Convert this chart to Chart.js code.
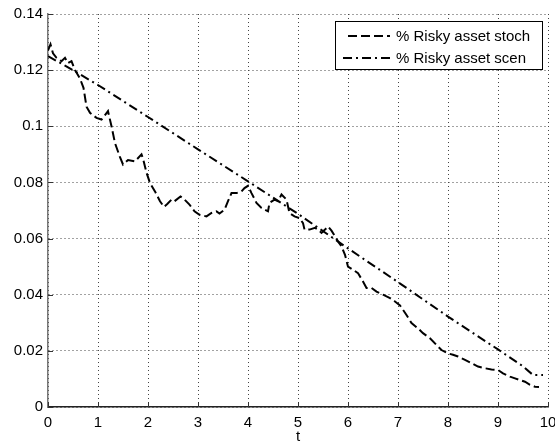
<!DOCTYPE html>
<html>
<head>
<meta charset="utf-8">
<script src="https://cdn.jsdelivr.net/npm/chart.js@4.4.1/dist/chart.umd.min.js"></script>
<style>
  html, body { margin: 0; padding: 0; background: #fff; }
  canvas { display: block; }
</style>
</head>
<body>
<canvas id="riskChart" width="555" height="446"></canvas>
<script>
// % risky asset over time, stochastic path vs scenario path
const stochT = [0, 0.05, 0.1, 0.17, 0.27, 0.34, 0.4, 0.47, 0.54, 0.64, 0.71, 0.77, 0.84, 0.97,
  1.07, 1.14, 1.2, 1.27, 1.34, 1.44, 1.5, 1.6, 1.74, 1.87, 1.9, 1.97,
  2.04, 2.14, 2.24, 2.32, 2.39, 2.47, 2.53, 2.65, 2.73, 2.83, 2.93,
  3.03, 3.17, 3.27, 3.37, 3.43, 3.53, 3.6, 3.67, 3.77, 3.87, 3.93,
  4.0, 4.07, 4.17, 4.27, 4.4, 4.43, 4.53, 4.6, 4.67, 4.77, 4.83, 4.93,
  5.03, 5.1, 5.13, 5.23, 5.34, 5.4, 5.47, 5.54, 5.6, 5.67, 5.74, 5.8, 5.87, 5.94,
  6.0, 6.1, 6.2, 6.3, 6.37, 6.47, 6.57, 6.7, 6.84, 6.94,
  7.04, 7.17, 7.27, 7.4, 7.5, 7.64, 7.77, 7.87,
  8.0, 8.1, 8.2, 8.34, 8.47, 8.6, 8.74, 8.87,
  9.0, 9.1, 9.24, 9.34, 9.44, 9.54, 9.64, 9.74, 9.82];
const stochV = [0.127, 0.1292, 0.126, 0.1244, 0.1232, 0.1244, 0.1225, 0.1232, 0.12, 0.117, 0.1137, 0.107, 0.1048, 0.103,
  0.1024, 0.104, 0.1054, 0.1, 0.094, 0.089, 0.0864, 0.088, 0.0875, 0.09, 0.0885, 0.0835,
  0.0798, 0.0768, 0.0733, 0.0713, 0.0724, 0.0739, 0.0733, 0.075, 0.0739, 0.0721, 0.0697,
  0.0685, 0.0679, 0.0691, 0.0697, 0.0689, 0.0703, 0.0733, 0.0762, 0.0762, 0.0768, 0.078,
  0.0788, 0.0762, 0.0727, 0.0709, 0.0697, 0.0727, 0.0739, 0.0733, 0.0757, 0.0739, 0.0691, 0.0679,
  0.0673, 0.0655, 0.0632, 0.0632, 0.0638, 0.0632, 0.062, 0.0632, 0.0643, 0.0628, 0.0608, 0.059, 0.0572, 0.0542,
  0.05, 0.0489, 0.0477, 0.0447, 0.0424, 0.0424, 0.0411, 0.04, 0.0388, 0.0376,
  0.0362, 0.0328, 0.0299, 0.028, 0.0263, 0.0245, 0.0221, 0.0203,
  0.0191, 0.0186, 0.018, 0.0168, 0.0156, 0.0144, 0.0138, 0.0134,
  0.0132, 0.012, 0.0108, 0.0102, 0.0096, 0.009, 0.0079, 0.0072, 0.0071];

const scenT = [0, 0.5, 1, 2, 3, 4, 5, 6, 7, 8, 9, 9.5, 9.7, 9.9];
const scenV = [0.125, 0.12, 0.1147, 0.1033, 0.0918, 0.0804, 0.0688, 0.0565, 0.0445, 0.0322, 0.0205, 0.0145, 0.0114, 0.0114];

const seriesLabels = ["% Risky asset stoch", "% Risky asset scen"];
const yTickLabels = ["0", "0.02", "0.04", "0.06", "0.08", "0.1", "0.12", "0.14"];
const xTickLabels = ["0", "1", "2", "3", "4", "5", "6", "7", "8", "9", "10"];

const font = "'Liberation Sans', Arial, sans-serif";
const stochDash = [9, 4];
const scenDash = [9, 4, 2, 4];

const toPoints = (ts, vs) => ts.map((t, i) => ({ x: t, y: vs[i] }));

// MATLAB style: small ticks pointing into the plot, plus a boxed legend
const matlabExtras = {
  id: "matlabExtras",
  afterDraw(chart) {
    const { ctx, chartArea, scales } = chart;
    ctx.save();
    ctx.strokeStyle = "#333";
    ctx.lineWidth = 1;
    scales.x.ticks.forEach((tick) => {
      const px = Math.round(scales.x.getPixelForValue(tick.value)) + 0.5;
      ctx.beginPath();
      ctx.moveTo(px, chartArea.bottom);
      ctx.lineTo(px, chartArea.bottom - 5);
      ctx.stroke();
    });
    scales.y.ticks.forEach((tick) => {
      const py = Math.round(scales.y.getPixelForValue(tick.value)) + 0.5;
      ctx.beginPath();
      ctx.moveTo(chartArea.left, py);
      ctx.lineTo(chartArea.left + 5, py);
      ctx.stroke();
    });

    // legend box
    const bx = 335.5, by = 21.5, bw = 207, bh = 48;
    ctx.fillStyle = "#fff";
    ctx.fillRect(bx, by, bw, bh);
    ctx.strokeStyle = "#000";
    ctx.strokeRect(bx, by, bw, bh);

    const rows = [
      { y: 36, x0: 348, x1: 390 },
      { y: 58, x0: 343, x1: 390 }
    ];
    chart.data.datasets.forEach((ds, i) => {
      const r = rows[i];
      ctx.setLineDash(ds.borderDash);
      ctx.lineWidth = ds.borderWidth;
      ctx.strokeStyle = ds.borderColor;
      ctx.beginPath();
      ctx.moveTo(r.x0, r.y);
      ctx.lineTo(r.x1, r.y);
      ctx.stroke();
      ctx.setLineDash([]);
      ctx.fillStyle = "#000";
      ctx.font = "15px " + font;
      ctx.textBaseline = "middle";
      ctx.textAlign = "left";
      ctx.fillText(ds.label, 396, r.y + 1);
    });
    ctx.restore();
  }
};

new Chart(document.getElementById("riskChart"), {
  type: "line",
  data: {
    datasets: [
      {
        label: seriesLabels[0],
        data: toPoints(stochT, stochV),
        borderColor: "#000",
        borderWidth: 2,
        borderDash: stochDash,
        pointRadius: 0,
        tension: 0,
        fill: false
      },
      {
        label: seriesLabels[1],
        data: toPoints(scenT, scenV),
        borderColor: "#000",
        borderWidth: 2,
        borderDash: scenDash,
        pointRadius: 0,
        tension: 0,
        fill: false
      }
    ]
  },
  options: {
    responsive: false,
    animation: false,
    devicePixelRatio: 1,
    layout: { padding: { top: 14, right: 7, left: 0, bottom: 0 } },
    plugins: {
      legend: { display: false },
      tooltip: { enabled: false }
    },
    scales: {
      x: {
        type: "linear",
        min: 0,
        max: 10,
        afterBuildTicks: (scale) => {
          scale.ticks = xTickLabels.map((l) => ({ value: Number(l) }));
        },
        afterFit: (scale) => {
          scale.height = 39;
          scale.paddingLeft = 0;
          scale.paddingRight = 0;
        },
        ticks: {
          color: "#000",
          font: { family: font, size: 15 },
          padding: 7,
          maxRotation: 0,
          autoSkip: false,
          callback: (v, i) => xTickLabels[i]
        },
        grid: { color: "#444", lineWidth: 1, drawTicks: false },
        border: { display: true, color: "#222", width: 1.5, dash: [1, 3] },
        title: {
          display: true,
          text: "t",
          color: "#000",
          font: { family: font, size: 15 },
          padding: { top: 0, bottom: 0 }
        }
      },
      y: {
        min: 0,
        max: 0.14,
        afterBuildTicks: (scale) => {
          scale.ticks = yTickLabels.map((l) => ({ value: Number(l) }));
        },
        afterFit: (scale) => {
          scale.width = 48;
        },
        ticks: {
          color: "#000",
          font: { family: font, size: 15 },
          padding: 5,
          autoSkip: false,
          callback: (v, i) => yTickLabels[i]
        },
        grid: { color: "#444", lineWidth: 1, drawTicks: false },
        border: { display: true, color: "#777", width: 1.5, dash: [1, 3] }
      }
    }
  },
  plugins: [matlabExtras]
});
</script>
</body>
</html>
